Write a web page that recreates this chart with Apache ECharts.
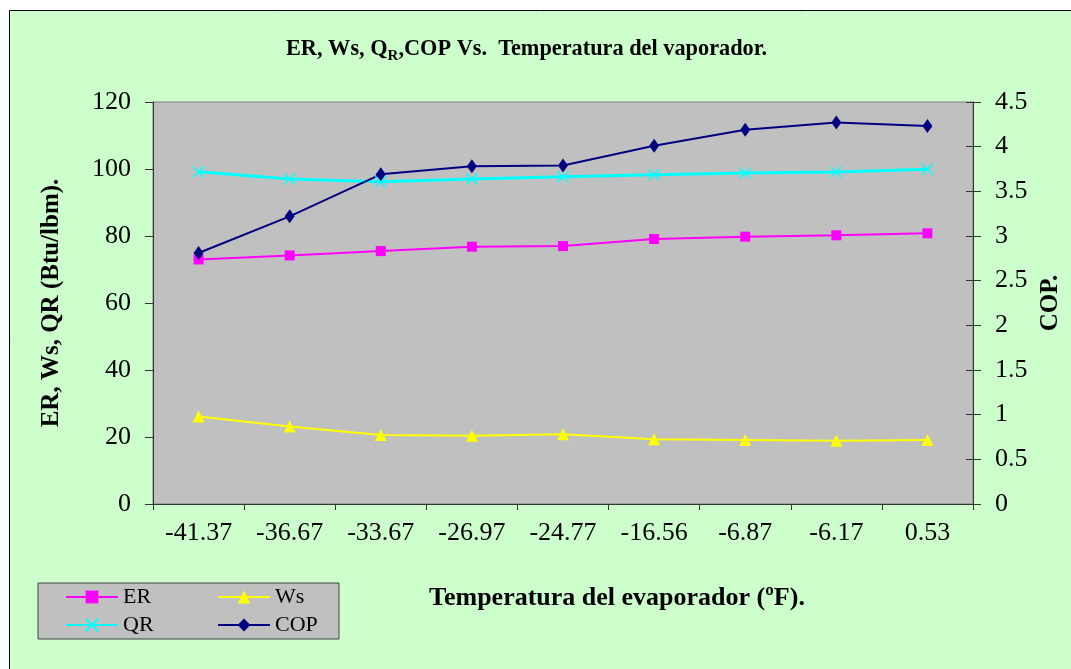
<!DOCTYPE html>
<html>
<head>
<meta charset="utf-8">
<script src="https://cdn.jsdelivr.net/npm/echarts@6/dist/echarts.min.js"></script>
<style>
  html, body { margin: 0; padding: 0; background: #ffffff; }
  #chart { width: 1071px; height: 669px; }
</style>
</head>
<body>
<div id="chart"></div>
<script>
// Evaporator temperature (ºF) categories
const categories = ['-41.37', '-36.67', '-33.67', '-26.97', '-24.77', '-16.56', '-6.87', '-6.17', '0.53'];
// Btu/lbm quantities (left axis)
const erValues = [73.0, 74.2, 75.5, 76.8, 77.0, 79.1, 79.8, 80.2, 80.8];
const wsValues = [26.1, 23.1, 20.6, 20.4, 20.8, 19.3, 19.1, 18.9, 19.1];
const qrValues = [99.2, 97.0, 96.2, 97.0, 97.7, 98.3, 98.8, 99.1, 99.9];
// Coefficient of performance (right axis)
const copValues = [2.81, 3.22, 3.69, 3.78, 3.79, 4.01, 4.19, 4.27, 4.23];

const serif = '"Liberation Serif", "Times New Roman", serif';
const chart = echarts.init(document.getElementById('chart'));

const crossPath = 'path://M0,0L10,10M10,0L0,10';

chart.setOption({
  backgroundColor: '#ffffff',
  animation: false,
  graphic: [{
    type: 'rect',
    z: -10,
    shape: { x: 9.5, y: 10.5, width: 1080, height: 680 },
    style: { fill: '#CCFFCC', stroke: '#000000', lineWidth: 1 }
  }],
  title: [{
    left: 281,
    top: 33,
    text: '{m|ER, Ws, Q}{s|R}{m|,COP Vs.  Temperatura del vaporador.}',
    textStyle: {
      rich: {
        m: { fontFamily: serif, fontSize: 22.3, fontWeight: 'bold', color: '#000', lineHeight: 24, verticalAlign: 'top' },
        s: { fontFamily: serif, fontSize: 15, fontWeight: 'bold', color: '#000', lineHeight: 15, verticalAlign: 'top', padding: [11, 0, 0, 0] }
      }
    }
  }, {
    left: 424,
    top: 580,
    text: 'Temperatura del evaporador (ºF).',
    textStyle: { fontFamily: serif, fontSize: 26, fontWeight: 'bold', color: '#000' }
  }],
  legend: {
    left: 38,
    top: 583,
    width: 260,
    orient: 'horizontal',
    backgroundColor: '#C0C0C0',
    borderColor: '#404040',
    borderWidth: 1,
    padding: [0, 18, 0, 27],
    itemGap: 0,
    itemWidth: 52,
    itemHeight: 16,
    textStyle: { fontFamily: serif, fontSize: 22, color: '#000', lineHeight: 28 },
    data: [
      { name: 'ER', textStyle: { width: 94 } },
      { name: 'Ws', textStyle: { width: 46 } },
      { name: 'QR', textStyle: { width: 94 } },
      { name: 'COP', textStyle: { width: 46 } }
    ]
  },
  grid: {
    left: 153,
    right: 98,
    top: 102,
    bottom: 165,
    outerBoundsMode: 'none',
    containLabel: false,
    show: true,
    backgroundColor: '#C0C0C0',
    borderColor: '#808080',
    borderWidth: 1
  },
  xAxis: {
    type: 'category',
    data: categories,
    boundaryGap: true,
    axisLine: { lineStyle: { color: '#333', width: 1 } },
    axisTick: { show: true, inside: false, length: 6, lineStyle: { color: '#333' } },
    axisLabel: { fontFamily: serif, fontSize: 26, color: '#000', margin: 16, interval: 0 },
    splitLine: { show: false }
  },
  yAxis: [{
    type: 'value',
    min: 0, max: 120, interval: 20,
    position: 'left',
    name: 'ER, Ws, QR (Btu/lbm).',
    nameLocation: 'middle',
    nameRotate: 90,
    nameGap: 89,
    nameTextStyle: { fontFamily: serif, fontSize: 25, fontWeight: 'bold', color: '#000' },
    axisLine: { show: true, lineStyle: { color: '#333', width: 1 } },
    axisTick: { show: true, inside: false, length: 8, lineStyle: { color: '#333' } },
    axisLabel: { fontFamily: serif, fontSize: 26, color: '#000', margin: 22 },
    splitLine: { show: false }
  }, {
    type: 'value',
    min: 0, max: 4.5, interval: 0.5,
    position: 'right',
    name: 'COP.',
    nameLocation: 'middle',
    nameRotate: 90,
    nameGap: 65,
    nameTextStyle: { fontFamily: serif, fontSize: 25, fontWeight: 'bold', color: '#000' },
    axisLine: { show: true, lineStyle: { color: '#333', width: 1 } },
    axisTick: { show: true, inside: false, length: 8, lineStyle: { color: '#333' } },
    axisLabel: { fontFamily: serif, fontSize: 26, color: '#000', margin: 22 },
    splitLine: { show: false }
  }, {
    // inner half of the crossing ticks on the COP axis
    type: 'value',
    min: 0, max: 4.5, interval: 0.5,
    position: 'right',
    axisLine: { show: false },
    axisTick: { show: true, inside: true, length: 7, lineStyle: { color: '#333' } },
    axisLabel: { show: false },
    splitLine: { show: false }
  }],
  series: [{
    name: 'ER',
    type: 'line',
    data: erValues,
    yAxisIndex: 0,
    symbol: 'rect',
    symbolSize: 10,
    lineStyle: { color: '#FF00FF', width: 2 },
    itemStyle: { color: '#FF00FF' }
  }, {
    name: 'Ws',
    type: 'line',
    data: wsValues,
    yAxisIndex: 0,
    symbol: 'triangle',
    symbolSize: 12,
    lineStyle: { color: '#FFFF00', width: 2 },
    itemStyle: { color: '#FFFF00' }
  }, {
    name: 'QR',
    type: 'line',
    data: qrValues,
    yAxisIndex: 0,
    symbol: crossPath,
    symbolSize: 11,
    lineStyle: { color: '#00FFFF', width: 3 },
    itemStyle: { color: '#00FFFF', borderColor: '#00FFFF', borderWidth: 1.5 }
  }, {
    name: 'COP',
    type: 'line',
    data: copValues,
    yAxisIndex: 1,
    symbol: 'diamond',
    symbolSize: [10, 14],
    lineStyle: { color: '#000080', width: 2 },
    itemStyle: { color: '#000080' }
  }]
});
</script>
</body>
</html>
